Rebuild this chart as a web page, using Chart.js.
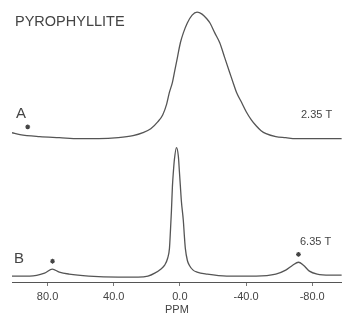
<!DOCTYPE html>
<html>
<head>
<meta charset="utf-8">
<script src="https://cdn.jsdelivr.net/npm/chart.js@4/dist/chart.umd.min.js"></script>
<style>
  html, body { margin:0; padding:0; background:#fff; }
  canvas { display:block; }
</style>
</head>
<body>
<canvas id="nmr" width="347" height="314"></canvas>
<script>
/* ── Pyrophyllite 27Al MAS spectra ── */
const xTicks = [80, 40, 0, -40, -80];

/* A — 2.35 T, broad line (intensity includes vertical offset of trace) */
const ppmA = [101.5, 96.7, 84.8, 72.9, 61.0, 49.1, 37.2, 28.3, 22.3, 17.6, 13.4, 10.4, 8.0, 6.3, 4.5, 3.3,
  1.5, -0.3, -2.1, -4.5, -7.4, -10.4, -13.4, -16.4, -18.2, -21.1, -24.1, -27.1, -30.1, -32.5, -34.2,
  -37.2, -40.2, -43.2, -46.1, -49.1, -52.1, -58.0, -64.0, -69.9, -81.8, -97.9];
const intA = [151, 149, 147, 146, 145, 145, 146, 148, 151, 155, 162, 169, 180, 192, 202, 212,
  227, 242, 252, 262, 270, 273, 271, 266, 262, 252, 242, 227, 212, 200, 192,
  182, 172, 164, 158, 153, 150, 147, 146, 145, 145, 145];

/* B — 6.35 T, narrow line with spinning sidebands */
const ppmB = [101.5, 90.8, 81.8, 77.1, 72.9, 67.0, 55.1, 37.2, 25.3, 19.3, 15.2, 11.6, 9.2, 7.4, 6.3,
  5.7, 5.1, 4.5, 3.9, 3.3, 2.1, 0.9, 0.3, -0.3, -0.9, -2.1, -2.7, -3.3, -4.5, -5.7, -8.0, -10.4,
  -16.4, -28.3, -46.1, -58.0, -64.0, -68.2, -71.7, -74.7, -78.3, -83.0, -90.8, -97.9];
const intB = [6, 6, 9, 13, 10, 8, 6, 5, 5, 6, 9, 13, 17, 24, 34,
  52, 72, 97, 112, 124, 136, 127, 112, 97, 82, 62, 47, 34, 22, 17, 12, 10,
  8, 6, 6, 8, 12, 17, 20, 17, 11, 8, 7, 7];

/* spinning sideband markers (*) */
const starPpm = [92, 77, -71.7];
const starInt = [157, 21, 28];

const ink = '#444';
const lineStyle = {
  borderColor: '#555', borderWidth: 1.3, pointRadius: 0,
  cubicInterpolationMode: 'monotone', fill: false
};

/* static labels of the figure */
const figLabels = {
  id: 'figLabels',
  afterDraw(chart) {
    const ctx = chart.ctx;
    ctx.save();
    ctx.fillStyle = ink;
    ctx.textBaseline = 'middle';
    ctx.textAlign = 'left';
    ctx.font = '14.5px "Liberation Sans", Arial, sans-serif';
    ctx.fillText('PYROPHYLLITE', 15, 22);
    ctx.font = '15px "Liberation Sans", Arial, sans-serif';
    ctx.fillText('A', 16, 114);
    ctx.fillText('B', 14, 259);
    ctx.font = '11px "Liberation Sans", Arial, sans-serif';
    ctx.fillText('2.35 T', 301, 115);
    ctx.fillText('6.35 T', 300, 242);
    ctx.restore();
  }
};

new Chart(document.getElementById('nmr'), {
  type: 'line',
  data: {
    datasets: [
      { label: 'A 2.35 T', data: ppmA.map((x, i) => ({ x, y: intA[i] })), ...lineStyle },
      { label: 'B 6.35 T', data: ppmB.map((x, i) => ({ x, y: intB[i] })), ...lineStyle },
      {
        label: 'sidebands', type: 'scatter',
        data: starPpm.map((x, i) => ({ x, y: starInt[i] })),
        pointStyle: 'star', pointRadius: 2.4, borderColor: ink, borderWidth: 1.2,
        backgroundColor: ink
      }
    ]
  },
  options: {
    responsive: false,
    animation: false,
    layout: { padding: { left: 12, right: 0, top: 2, bottom: 0 } },
    plugins: { legend: { display: false }, tooltip: { enabled: false } },
    scales: {
      x: {
        type: 'linear', reverse: true, min: -97.9, max: 101.5,
        afterBuildTicks: s => { s.ticks = xTicks.map(v => ({ value: v })); },
        afterFit: s => { s.height = 32; },
        border: { color: '#555', width: 1 },
        grid: { drawOnChartArea: false, tickLength: 4, color: '#777' },
        ticks: {
          color: ink, padding: 4, maxRotation: 0,
          font: { size: 11, family: '"Liberation Sans", Arial, sans-serif' },
          callback: v => v.toFixed(1)
        },
        title: {
          display: true, text: 'PPM', color: ink, padding: { top: 0, bottom: -3 },
          font: { size: 11, family: '"Liberation Sans", Arial, sans-serif' }
        }
      },
      y: { display: false, min: 0, max: 280 }
    }
  },
  plugins: [figLabels]
});
</script>
</body>
</html>
